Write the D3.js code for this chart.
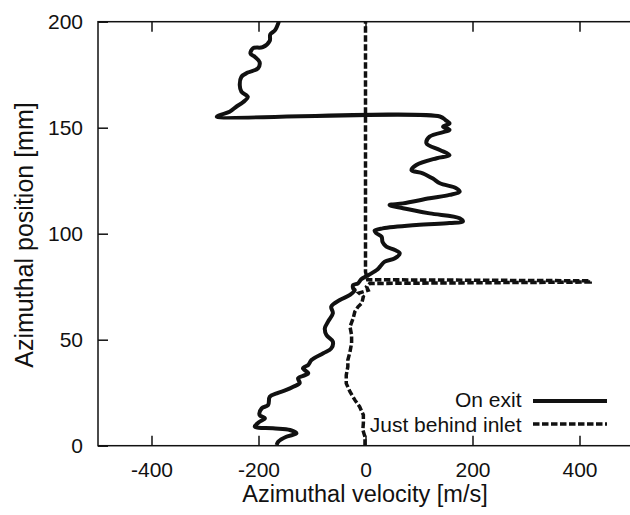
<!DOCTYPE html>
<html><head><meta charset="utf-8">
<script src="https://cdn.jsdelivr.net/npm/d3@7"></script>
<style>body{margin:0;background:#fff}svg{display:block}text{font-family:"Liberation Sans",Arial,Helvetica,sans-serif;fill:#111}</style>
</head><body><svg id="c" width="630" height="515"></svg>
<script>
const xTicks = [-400, -200, 0, 200, 400];
const yTicks = [0, 50, 100, 150, 200];
const seriesNames = ["On exit", "Just behind inlet"];
const exitPos = [0.3,1.9,4.2,5.8,7.4,8.2,9.0,11.3,12.9,14.5,17.6,19.2,23.1,24.7,26.3,27.8,29.6,31.8,33.3,34.2,36.5,37.3,38.1,40.4,43.6,45.9,49.1,52.2,55.4,58.5,62.5,65.6,68.7,71.1,73.4,74.2,75.8,76.6,78.5,80,81.3,82.9,84.4,86.8,88.4,90.8,92.3,93.9,96,98.6,100.3,101.4,102.5,104.1,105,105.7,107.3,109.6,112,113.5,114.3,116.7,118.3,119.8,121.4,123.8,126,128.5,130,132.4,135.6,137,139.5,142.6,145.8,149,150.5,152,153.5,155.3,155.2,156,157.5,160,162,164.6,167,170,174,176,178,181,183.5,185,187.5,188,191,194,196,200];
const exitVel = [-166,-163,-148,-129,-141,-173,-207,-198,-188,-198,-194,-182,-179,-166,-148,-135,-123,-126,-113,-107,-117,-113,-107,-101,-79,-64,-61,-73,-76,-70,-61,-64,-48,-29,-20,-23,-23,-14,-8,2,11,21,27,36,55,64,55,39,32,30,20,17,32,95,157,182,176,120,70,45,70,120,157,176,170,139,126,107,86,95,133,157,139,114,120,157,145,157,150,139,-278,-272,-254,-241,-229,-220,-232,-235,-232,-220,-201,-198,-207,-215,-210,-192,-179,-178,-169,-162];
const inletPos = [0,4.2,7.5,10.6,14.5,18.4,21.6,25.5,29.4,33.3,37.3,40.4,44.3,48.3,52.2,56.1,60.1,63.2,65.5,67.2,70.3,72,73.4,75,76.5,77.2,77.8,78.3,80,82,200];
const inletVel = [-1,-1,-5,-4,-4,-11,-20,-29,-36,-36,-33,-33,-29,-26,-26,-29,-23,-20,-14,-7,-4,-12,5,2,8,420,420,4,2,0,0];

const svg = d3.select("#c");
const x = d3.scaleLinear().domain([-500, 500]).range([98, 633]);
const y = d3.scaleLinear().domain([0, 200]).range([445.7, 21.7]);

const g = svg.append("g");
g.append("rect").attr("x", x(-500)).attr("y", y(200)).attr("width", x(500)-x(-500)).attr("height", y(0)-y(200))
 .attr("fill","none").attr("stroke","#111").attr("stroke-width",1.5);

const tl = 10;
const fmt = d => String(d);
const xb = g.append("g").attr("transform",`translate(0,${y(0)})`).call(d3.axisBottom(x).tickValues(xTicks).tickSize(-tl).tickPadding(16).tickFormat(fmt));
const xt = g.append("g").attr("transform",`translate(0,${y(200)})`).call(d3.axisTop(x).tickValues(xTicks).tickSize(-tl).tickFormat(""));
const yl = g.append("g").attr("transform",`translate(${x(-500)},0)`).call(d3.axisLeft(y).tickValues(yTicks).tickSize(-tl).tickPadding(15).tickFormat(fmt));
[xb,xt,yl].forEach(a=>{a.select(".domain").remove();a.selectAll(".tick line").attr("stroke","#111").attr("stroke-width",1.5);
 a.selectAll("text").style("font-size","21px").attr("fill","#111").style("font-family","'Liberation Sans',Arial,sans-serif");});

svg.append("text").attr("x",365).attr("y",502).attr("text-anchor","middle").style("font-size","23.5px").text("Azimuthal velocity [m/s]");
svg.append("text").attr("transform","translate(33,235) rotate(-90)").attr("text-anchor","middle").style("font-size","25px").text("Azimuthal position [mm]");

svg.append("text").attr("x",521.5).attr("y",407).attr("text-anchor","end").style("font-size","21px").text(seriesNames[0]);
svg.append("text").attr("x",521.5).attr("y",431.5).attr("text-anchor","end").style("font-size","21px").text(seriesNames[1]);

svg.append("clipPath").attr("id","pc").append("rect").attr("x",x(-500)).attr("y",y(200)).attr("width",x(500)-x(-500)).attr("height",y(0)-y(200));
const line = d3.line().x(d=>x(d[0])).y(d=>y(d[1])).curve(d3.curveCatmullRom.alpha(0.5));
const lineL = d3.line().x(d=>x(d[0])).y(d=>y(d[1]));

const exitData = exitPos.map((p,i)=>[exitVel[i],p]);
const inletData = inletPos.map((p,i)=>[inletVel[i],p]);

const pg = svg.append("g").attr("clip-path","url(#pc)");
pg.append("path").attr("d",line(exitData)).attr("fill","none").attr("stroke","#111").attr("stroke-width",4).attr("stroke-linejoin","round");
pg.append("path").attr("d",lineL(inletData)).attr("fill","none").attr("stroke","#111").attr("stroke-width",3.5).attr("stroke-dasharray","6.5,2.5");

svg.append("line").attr("x1",533).attr("x2",607).attr("y1",401).attr("y2",401).attr("stroke","#111").attr("stroke-width",4);
svg.append("line").attr("x1",533).attr("x2",607).attr("y1",424).attr("y2",424).attr("stroke","#111").attr("stroke-width",3.5).attr("stroke-dasharray","6.5,2.5");
</script></body></html>
